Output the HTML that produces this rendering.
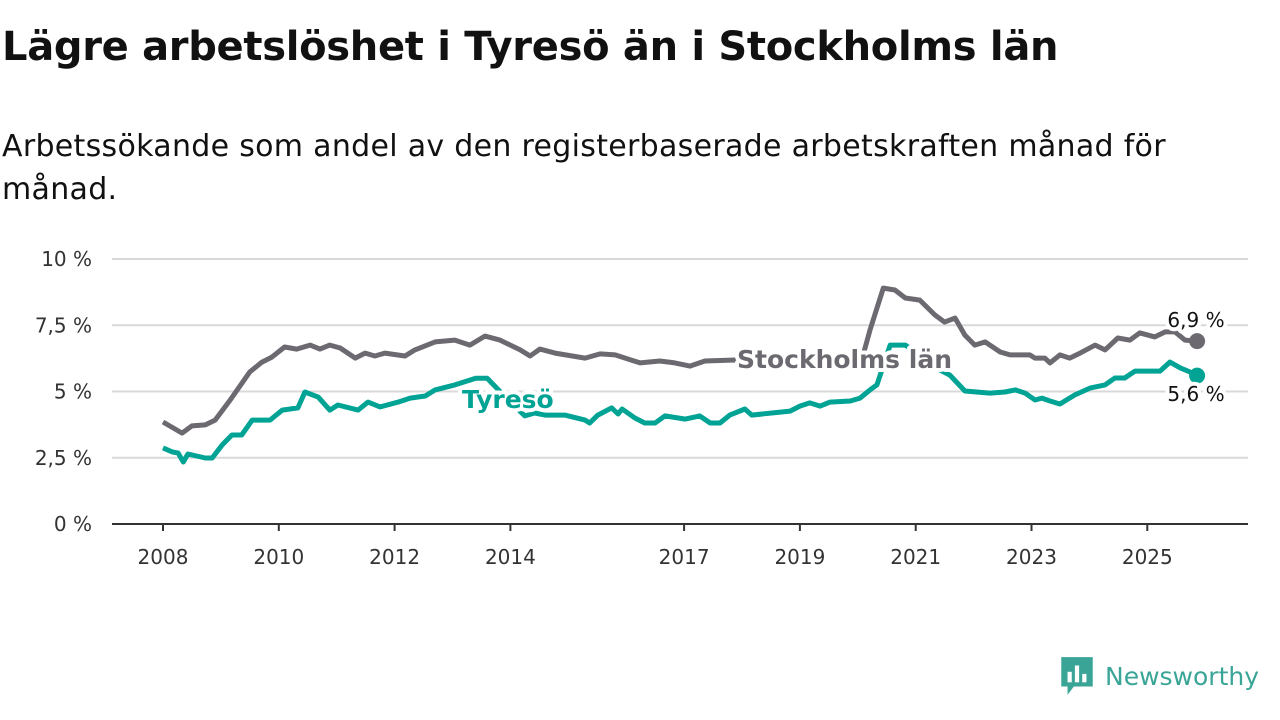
<!DOCTYPE html>
<html><head><meta charset="utf-8"><style>
body{margin:0;width:1280px;height:720px;background:#fff;font-family:"DejaVu Sans","Liberation Sans",sans-serif;overflow:hidden;position:relative}
h1{position:absolute;left:2px;top:24px;margin:0;font-size:40px;font-weight:bold;color:#111;letter-spacing:-0.3px}
p{position:absolute;left:2px;top:125px;margin:0;font-size:30px;line-height:43px;color:#111;width:1270px;letter-spacing:0.3px}
svg{position:absolute;left:0;top:0}
</style></head><body>
<h1>Lägre arbetslöshet i Tyresö än i Stockholms län</h1>
<p>Arbetssökande som andel av den registerbaserade arbetskraften månad för<br>månad.</p>
<svg id="chart" width="1280" height="720"></svg>
<script>
const yTicks=[0,2.5,5,7.5,10];
const yTickLabels=["0 %","2,5 %","5 %","7,5 %","10 %"];
const xTicks=[2008,2010,2012,2014,2017,2019,2021,2023,2025];
const sthlmYears=[2008.0,2008.33,2008.5,2008.73,2008.9,2009.16,2009.5,2009.71,2009.88,2010.1,2010.31,2010.54,2010.71,2010.88,2011.06,2011.32,2011.49,2011.66,2011.83,2012.18,2012.35,2012.7,2013.04,2013.3,2013.56,2013.82,2014.17,2014.34,2014.51,2014.77,2015.29,2015.55,2015.81,2016.24,2016.58,2016.84,2017.1,2017.36,2017.88,2019.0,2020.04,2020.21,2020.44,2020.64,2020.82,2021.07,2021.33,2021.5,2021.68,2021.85,2022.02,2022.2,2022.46,2022.63,2022.97,2023.06,2023.23,2023.32,2023.49,2023.66,2023.84,2024.1,2024.27,2024.49,2024.7,2024.87,2025.13,2025.31,2025.48,2025.65,2025.86];
const sthlmValues=[3.85,3.43,3.7,3.74,3.92,4.68,5.74,6.11,6.3,6.68,6.6,6.75,6.6,6.75,6.64,6.26,6.45,6.34,6.45,6.34,6.57,6.87,6.94,6.75,7.09,6.94,6.57,6.34,6.6,6.45,6.26,6.42,6.38,6.08,6.15,6.08,5.96,6.15,6.19,6.04,5.96,7.32,8.9,8.83,8.53,8.45,7.89,7.62,7.77,7.13,6.75,6.87,6.49,6.38,6.38,6.26,6.26,6.08,6.38,6.26,6.45,6.75,6.57,7.02,6.94,7.21,7.06,7.25,7.25,6.94,6.9];
const tyresoYears=[2008.0,2008.16,2008.26,2008.35,2008.43,2008.73,2008.85,2009.02,2009.19,2009.36,2009.54,2009.85,2010.06,2010.33,2010.45,2010.68,2010.88,2011.02,2011.37,2011.54,2011.75,2012.06,2012.27,2012.53,2012.7,2013.04,2013.4,2013.6,2014.0,2014.25,2014.42,2014.6,2014.94,2015.29,2015.37,2015.51,2015.75,2015.86,2015.93,2016.15,2016.32,2016.5,2016.67,2017.02,2017.27,2017.45,2017.62,2017.79,2018.05,2018.17,2018.83,2019.0,2019.17,2019.35,2019.52,2019.87,2020.04,2020.21,2020.33,2020.56,2020.82,2021.07,2021.42,2021.59,2021.85,2022.28,2022.54,2022.72,2022.89,2023.06,2023.18,2023.32,2023.49,2023.75,2024.01,2024.27,2024.44,2024.61,2024.79,2025.22,2025.39,2025.57,2025.82,2025.86];
const tyresoValues=[2.87,2.72,2.68,2.34,2.64,2.49,2.49,2.98,3.36,3.36,3.92,3.92,4.3,4.38,4.98,4.79,4.3,4.49,4.3,4.6,4.42,4.6,4.75,4.83,5.06,5.25,5.5,5.5,4.6,4.08,4.19,4.11,4.11,3.92,3.81,4.11,4.38,4.15,4.34,4.0,3.81,3.81,4.08,3.96,4.08,3.81,3.81,4.11,4.34,4.11,4.26,4.45,4.57,4.45,4.6,4.64,4.75,5.06,5.25,6.75,6.75,6.38,5.81,5.62,5.02,4.94,4.98,5.06,4.94,4.68,4.75,4.64,4.53,4.87,5.13,5.25,5.51,5.51,5.77,5.77,6.11,5.89,5.66,5.6];
const NS='http://www.w3.org/2000/svg';
const svg=document.getElementById('chart');
const X=y=>163+(y-2008)*57.9;
const Y=v=>524-v*26.5;
function mk(tag,attrs,parent){const e=document.createElementNS(NS,tag);for(const k in attrs)e.setAttribute(k,attrs[k]);(parent||svg).appendChild(e);return e;}
yTicks.forEach((t,i)=>{
  if(t>0){const g=mk('line',{x1:112,x2:1248,y1:Y(t),y2:Y(t),stroke:'#d9d9d9','stroke-width':2});
  
  }
  const tx=mk('text',{x:92,y:Y(t)+7,'text-anchor':'end','font-size':20,fill:'#333'});
  tx.textContent=yTickLabels[i];
  
  
});
const ax=mk('line',{x1:112,x2:1248,y1:524,y2:524,stroke:'#333','stroke-width':2});


xTicks.forEach(t=>{
  const tk=mk('line',{x1:X(t),x2:X(t),y1:524,y2:531,stroke:'#333','stroke-width':2});
  
  
  const tx=mk('text',{x:X(t),y:564,'text-anchor':'middle','font-size':20,fill:'#333'});
  tx.textContent=t;
  
  
});
function line(xs,vs,color,name){
  const d=xs.map((x,i)=>(i?'L':'M')+X(x).toFixed(1)+','+Y(vs[i]).toFixed(1)).join('');
  const p=mk('path',{d:d,fill:'none',stroke:color,'stroke-width':5,'stroke-linejoin':'round'});
  
  
  const n=xs.length-1;
  const c=mk('circle',{cx:X(xs[n]),cy:Y(vs[n]),r:8,fill:color});
  
  
}
line(sthlmYears,sthlmValues,'#6c6a70','stockholm');
line(tyresoYears,tyresoValues,'#00a394','tyreso');
function label(x,y,txt,color,size,weight,name,anchor){
  const t=mk('text',{x:x,y:y,'font-size':size,'font-weight':weight,fill:color,stroke:'#fff','stroke-width':8,'paint-order':'stroke','stroke-linejoin':'round','text-anchor':anchor||'start'});
  t.textContent=txt;
  
  
}
label(737,368,'Stockholms län','#6c6a70',25,'bold','stockholm-label');
label(462,408,'Tyresö','#00a394',25,'bold','tyreso-label');
label(1196,327,'6,9 %','#111',20,'normal','stockholm-last-value','middle');
label(1196,401,'5,6 %','#111',20,'normal','tyreso-last-value','middle');
</script>
<div style="position:absolute;left:1059px;top:655px;display:flex;align-items:center">
<svg width="36" height="42" style="position:static" viewBox="0 0 34 40"><path d="M2 2h30v28H14l-6 8v-8H2z" fill="#3aa597"/><rect x="8" y="16" width="4" height="10" fill="#fff"/><rect x="15" y="10" width="4" height="16" fill="#fff"/><rect x="22" y="18" width="4" height="8" fill="#fff"/></svg>
<span style="font-size:25px;color:#3aa597;margin-left:10px;font-weight:normal">Newsworthy</span></div>
</body></html>
